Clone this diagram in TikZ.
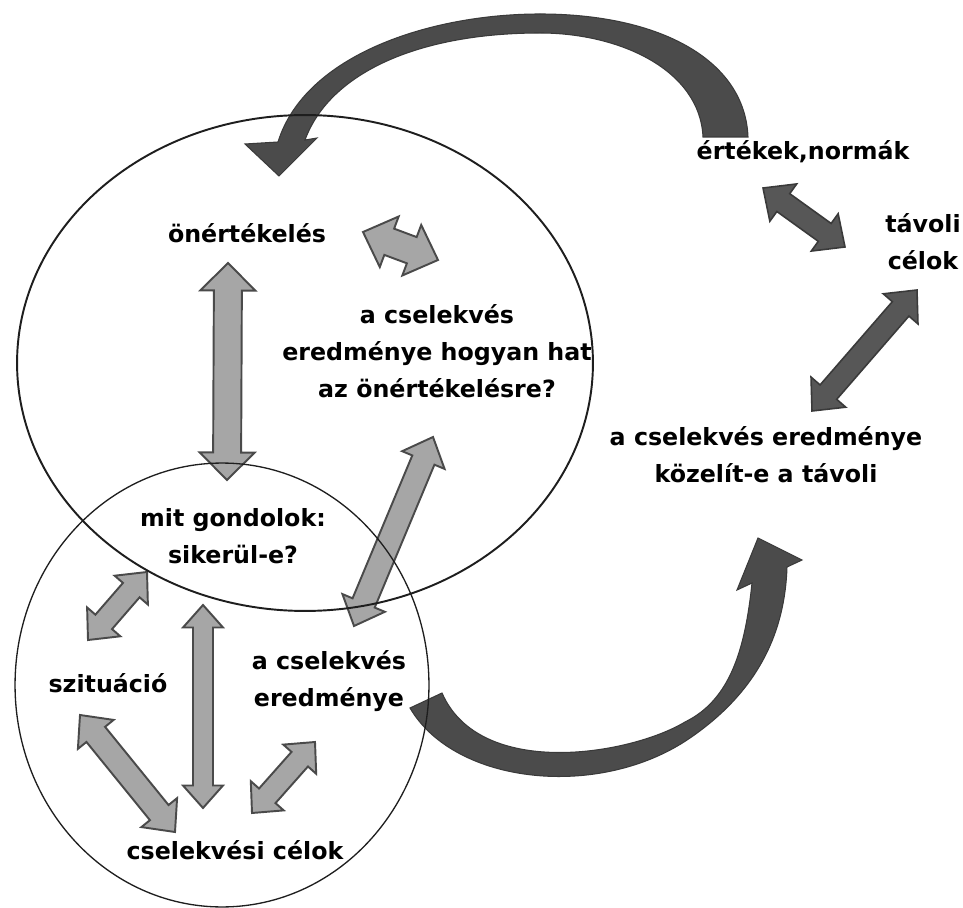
\documentclass[tikz,border=0pt]{standalone}
\usepackage{fontspec}
\setmainfont{DejaVu Sans}
\usetikzlibrary{calc}
\definecolor{arrowlight}{HTML}{A6A6A6}
\definecolor{arrowedge}{HTML}{4A4A4A}
\definecolor{arrowdark}{HTML}{575757}
\definecolor{arrowdarkedge}{HTML}{3A3A3A}
\definecolor{swoop}{HTML}{4B4B4B}
\definecolor{ringline}{HTML}{1E1E1E}

% double-headed block arrow: #1 style, #2 and #3 tip coordinates,
% #4 half shaft width, #5 half head width, #6 head length
\newcommand\blockarrow[6]{%
  \coordinate (ba-a) at ($(#2)!#6!(#3)$);
  \coordinate (ba-b) at ($(#3)!#6!(#2)$);
  \draw[#1] (#2) -- ($(ba-a)!#5!90:(#3)$) -- ($(ba-a)!#4!90:(#3)$)
    -- ($(ba-b)!#4!-90:(#2)$) -- ($(ba-b)!#5!-90:(#2)$) -- (#3)
    -- ($(ba-b)!#5!90:(#2)$) -- ($(ba-b)!#4!90:(#2)$)
    -- ($(ba-a)!#4!-90:(#3)$) -- ($(ba-a)!#5!-90:(#3)$) -- cycle;}

\begin{document}
\begin{tikzpicture}[x=0.02cm,y=-0.02cm,
  lbl/.style={font=\bfseries\fontsize{13.5}{21}\selectfont, align=center, inner sep=0pt},
  lightarrow/.style={fill=arrowlight, draw=arrowedge, line width=1.1pt, line join=miter},
  darkarrow/.style={fill=arrowdark, draw=arrowdarkedge, line width=0.9pt, line join=miter},
  swooparrow/.style={fill=swoop, draw=arrowdarkedge, line width=0.6pt, line join=miter},
  ring/.style={draw=ringline}]

\fill[white] (0,0) rectangle (963,908);
\useasboundingbox (0,0) rectangle (963,908);

% arrow end points
\coordinate (selfeval-s) at (228,263);
\coordinate (think-n) at (227,480);
\coordinate (selfeval-e) at (363,232);
\coordinate (impact-w) at (438,260);
\coordinate (impact-s) at (433,437);
\coordinate (result-n) at (354,626);
\coordinate (think-sw) at (147,572);
\coordinate (situation-ne) at (88,640);
\coordinate (situation-se) at (80,715);
\coordinate (goals-nw) at (175,832);
\coordinate (think-s) at (203,605);
\coordinate (goals-n) at (203,808);
\coordinate (result-s) at (315,742);
\coordinate (goals-ne) at (252,813);
\coordinate (norms-s) at (763,188);
\coordinate (distant-w) at (845,247);
\coordinate (distant-s) at (917,290);
\coordinate (approach-n) at (812,411);

% light arrows inside the two circles
\blockarrow{lightarrow}{selfeval-s}{think-n}{.28cm}{.55cm}{.55cm}
\blockarrow{lightarrow}{selfeval-e}{impact-w}{.28cm}{.54cm}{.56cm}
\blockarrow{lightarrow}{impact-s}{result-n}{.24cm}{.46cm}{.5cm}
\blockarrow{lightarrow}{think-sw}{situation-ne}{.22cm}{.44cm}{.48cm}
\blockarrow{lightarrow}{situation-se}{goals-nw}{.24cm}{.46cm}{.5cm}
\blockarrow{lightarrow}{think-s}{goals-n}{.2cm}{.4cm}{.45cm}
\blockarrow{lightarrow}{result-s}{goals-ne}{.22cm}{.44cm}{.46cm}

% dark arrows on the right
\blockarrow{darkarrow}{norms-s}{distant-w}{.22cm}{.46cm}{.5cm}
\blockarrow{darkarrow}{distant-s}{approach-n}{.22cm}{.46cm}{.5cm}

% curved arrow from the values back to self-evaluation
\draw[swooparrow] (703,137) .. controls (700,70) and (620,33) .. (540,33)
  .. controls (420,33) and (330,72) .. (305,140)
  -- (317,138) -- (279,176) -- (245,144) -- (278,142)
  .. controls (305,55) and (430,14) .. (540,14)
  .. controls (660,14) and (745,60) .. (748,137) -- cycle;

% curved arrow from the result towards the distant goals
\draw[swooparrow] (410,708) .. controls (455,785) and (600,800) .. (690,738)
  .. controls (760,690) and (785,630) .. (787,567)
  -- (802,560) -- (758,538) -- (737,590) -- (752,583)
  .. controls (745,650) and (730,700) .. (685,722)
  .. controls (630,755) and (480,780) .. (442,693) -- cycle;

% the two circles
\draw[ring, line width=1.1pt] (305,363) ellipse [x radius=5.76cm, y radius=4.96cm];
\draw[ring, line width=0.75pt] (222,685) ellipse [x radius=4.14cm, y radius=4.44cm];

% labels
\node[lbl] (selfeval) at (247,233) {önértékelés};
\node[lbl] (impact) at (437,351) {a cselekvés\\eredménye hogyan hat\\az önértékelésre?};
\node[lbl] (norms) at (803,152) {értékek,normák};
\node[lbl] (distant) at (923,242) {távoli\\célok};
\node[lbl] (approach) at (766,455) {a cselekvés eredménye\\közelít-e a távoli};
\node[lbl] (think) at (233,536) {mit gondolok:\\sikerül-e?};
\node[lbl] (situation) at (108,683) {szituáció};
\node[lbl] (result) at (329,681) {a cselekvés\\eredménye};
\node[lbl] (goals) at (235,850) {cselekvési célok};

\end{tikzpicture}
\end{document}
